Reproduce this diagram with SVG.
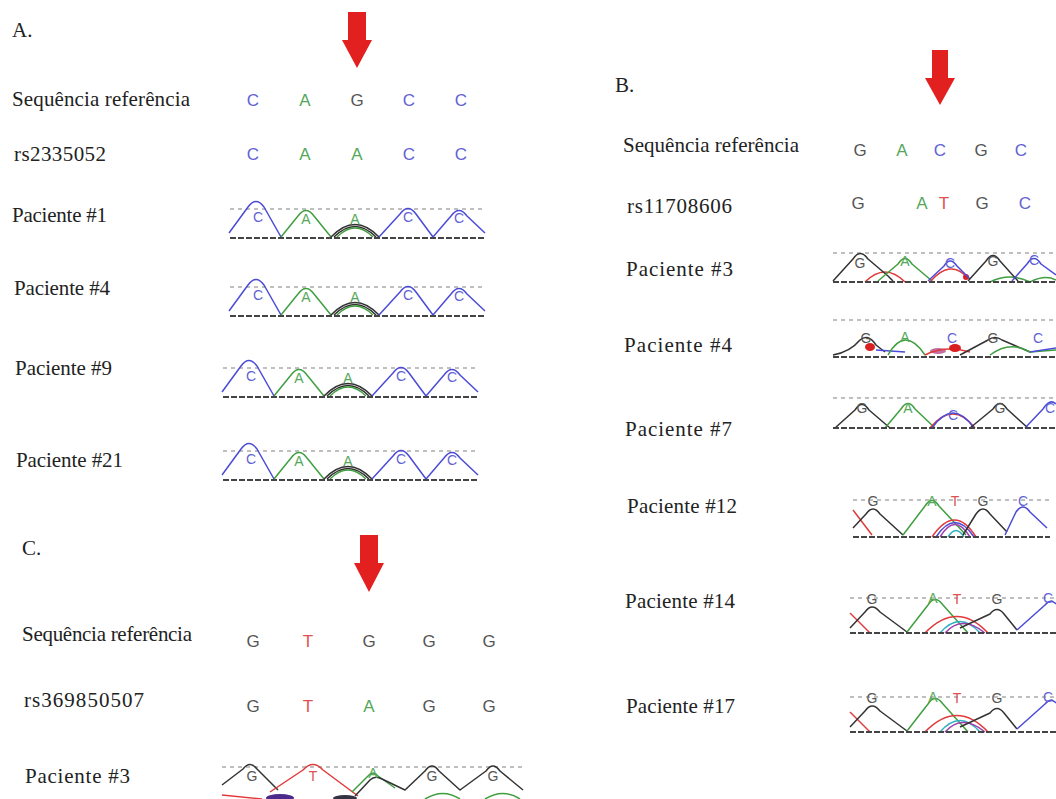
<svg xmlns="http://www.w3.org/2000/svg" xmlns:xlink="http://www.w3.org/1999/xlink" width="1056" height="799" viewBox="0 0 1056 799">
  <style>
    .lbl { font-family: "Liberation Serif", "Times New Roman", serif; font-size: 21px; fill: #222; }
    .nt { font-family: "Liberation Sans", Arial, sans-serif; font-size: 17px; text-anchor: middle; }
    .pk { font-family: "Liberation Sans", Arial, sans-serif; font-size: 14px; text-anchor: middle; }
    .cC { fill: #6262d4; }
    .cA { fill: #55a85a; }
    .cG { fill: #555; }
    .cT { fill: #e05050; }
    .tr { fill: none; stroke-width: 1.5; stroke-linejoin: round; }
    .tB { stroke: #4b4bd8; }
    .tG { stroke: #3f9f3f; }
    .tK { stroke: #333; }
    .tR { stroke: #e03a3a; }
    .tP { stroke: #a040b0; }
    .tY { stroke: #30b0c0; }
    .top { stroke: #aaa; stroke-width: 1.3; stroke-dasharray: 4 4; }
    .base { stroke: #444; stroke-width: 2; stroke-dasharray: 6 2; }
    .arrow { fill: #e32020; }
  </style>
  <defs>
    <!-- chromatogram trace used for each patient in panel A (C A A/G C C) -->
    <g id="chromA">
      <line class="top" x1="230" y1="209" x2="486" y2="209"/>
      <path class="tr tB" d="M229,233 L248,207 Q256,196 264,207 L281,237"/>
      <path class="tr tG" d="M281,237 L298,216 Q306,205 314,216 L331,237"/>
      <path class="tr tK" d="M331,237 Q355,212 379,237"/>
      <path class="tr tK" d="M334,237 Q355,216 376,237"/>
      <path class="tr tG" d="M337,237 Q355,219 373,237"/>
      <path class="tr tB" d="M379,237 L400,214 Q408,203 416,214 L433,237"/>
      <path class="tr tB" d="M433,237 L451,216 Q459,205 467,216 L485,233"/>
      <line class="base" x1="230" y1="238" x2="486" y2="238"/>
      <text class="pk cC" x="258" y="222">C</text>
      <text class="pk cA" x="306" y="224">A</text>
      <text class="pk cA" x="355" y="224">A</text>
      <text class="pk cC" x="408" y="222">C</text>
      <text class="pk cC" x="459" y="223">C</text>
    </g>
    <!-- chromatogram trace for the G A T G C heterozygous pattern in panel B -->
    <g id="chromB14">
      <line class="top" x1="850" y1="598" x2="1056" y2="598"/>
      <path class="tr tR" d="M850,613 L870,633"/>
      <path class="tr tK" d="M850,628 L865,612 Q872,602 880,612 L907,632"/>
      <path class="tr tG" d="M907,632 L928,605 Q935,594 943,605 L968,633"/>
      <path class="tr tR" d="M925,633 Q957,600 988,633"/>
      <path class="tr tY" d="M940,633 Q960,610 980,633"/>
      <path class="tr tP" d="M945,633 Q962,614 985,633"/>
      <path class="tr tK" d="M960,628 L990,614 Q997,605 1004,614 L1017,630"/>
      <path class="tr tB" d="M1017,630 L1045,605 Q1050,599 1055,603 L1056,604"/>
      <line class="base" x1="850" y1="633" x2="1056" y2="633"/>
      <text class="pk cG" x="872" y="604">G</text>
      <text class="pk cA" x="933" y="603">A</text>
      <text class="pk cT" x="957" y="604">T</text>
      <text class="pk cG" x="997" y="604">G</text>
      <text class="pk cC" x="1048" y="603">C</text>
    </g>
  </defs>

  <rect width="1056" height="799" fill="#fff"/>

  <!-- Panel A: rs2335052 -->
  <g id="panel-a">
    <text class="lbl" x="12" y="37">A.</text>
    <polygon class="arrow" points="348,12 366,12 366,40 372,40 357,68 342,40 348,40"/>
    <text class="lbl" x="12" y="106" textLength="178">Sequência referência</text>
    <g id="a-ref">
      <text class="nt cC" x="253" y="106">C</text>
      <text class="nt cA" x="305" y="106">A</text>
      <text class="nt cG" x="357" y="106">G</text>
      <text class="nt cC" x="409" y="106">C</text>
      <text class="nt cC" x="461" y="106">C</text>
    </g>
    <text class="lbl" x="14" y="161" textLength="92">rs2335052</text>
    <g id="a-snp">
      <text class="nt cC" x="253" y="160">C</text>
      <text class="nt cA" x="305" y="160">A</text>
      <text class="nt cA" x="357" y="160">A</text>
      <text class="nt cC" x="409" y="160">C</text>
      <text class="nt cC" x="461" y="160">C</text>
    </g>
    <g id="a-p1">
      <text class="lbl" x="12" y="222" textLength="95">Paciente #1</text>
      <use xlink:href="#chromA"/>
    </g>
    <g id="a-p4">
      <text class="lbl" x="14" y="295" textLength="96">Paciente #4</text>
      <use xlink:href="#chromA" transform="translate(0,78)"/>
    </g>
    <g id="a-p9">
      <text class="lbl" x="15" y="375" textLength="97">Paciente #9</text>
      <use xlink:href="#chromA" transform="translate(-7,159)"/>
    </g>
    <g id="a-p21">
      <text class="lbl" x="16" y="467" textLength="107">Paciente #21</text>
      <use xlink:href="#chromA" transform="translate(-7,242)"/>
    </g>
  </g>

  <!-- Panel B: rs11708606 -->
  <g id="panel-b">
    <text class="lbl" x="615" y="92">B.</text>
    <polygon class="arrow" points="932,50 948,50 948,78 955,78 940,105 925,78 932,78"/>
    <text class="lbl" x="623" y="152" textLength="176">Sequência referência</text>
    <g id="b-ref">
      <text class="nt cG" x="860" y="156">G</text>
      <text class="nt cA" x="902" y="156">A</text>
      <text class="nt cC" x="940" y="156">C</text>
      <text class="nt cG" x="981" y="156">G</text>
      <text class="nt cC" x="1021" y="156">C</text>
    </g>
    <text class="lbl" x="627" y="213" textLength="105">rs11708606</text>
    <g id="b-snp">
      <text class="nt cG" x="858" y="209">G</text>
      <text class="nt cA" x="922" y="209">A</text>
      <text class="nt cT" x="944" y="209">T</text>
      <text class="nt cG" x="982" y="209">G</text>
      <text class="nt cC" x="1025" y="209">C</text>
    </g>

    <g id="b-p3">
      <text class="lbl" x="626" y="276" textLength="107">Paciente #3</text>
      <line class="top" x1="833" y1="253" x2="1056" y2="253"/>
      <path class="tr tR" d="M865,282 Q885,262 905,282"/>
      <path class="tr tK" d="M833,281 L853,259 Q860,248 868,259 L888,276 L893,281"/>
      <path class="tr tG" d="M878,281 L898,264 Q905,253 912,264 L932,281"/>
      <path class="tr tR" d="M930,282 Q950,258 968,278"/>
      <circle cx="966" cy="277" r="3" fill="#d82020"/>
      <path class="tr tB" d="M928,281 L944,266 Q950,256 957,266 L970,279"/>
      <path class="tr tG" d="M990,282 Q1010,272 1030,282 M1030,282 Q1045,274 1056,280"/>
      <path class="tr tK" d="M968,281 L986,261 Q993,250 1000,261 L1018,281"/>
      <path class="tr tB" d="M1012,281 L1027,264 Q1034,253 1041,264 L1056,275"/>
      <line class="base" x1="833" y1="282" x2="1056" y2="282"/>
      <text class="pk cG" x="860" y="268">G</text>
      <text class="pk cA" x="905" y="266">A</text>
      <text class="pk cC" x="950" y="268">C</text>
      <text class="pk cG" x="993" y="266">G</text>
      <text class="pk cC" x="1034" y="265">C</text>
    </g>

    <g id="b-p4">
      <text class="lbl" x="624" y="352" textLength="108">Paciente #4</text>
      <line class="top" x1="833" y1="320" x2="1056" y2="320"/>
      <path class="tr tK" d="M833,355 Q850,352 860,340 Q868,333 876,345 L885,352"/>
      <ellipse cx="870" cy="347" rx="5" ry="4" fill="#d82020"/>
      <path class="tr tB" d="M876,350 L905,352"/>
      <path class="tr tG" d="M888,355 Q905,325 925,355"/>
      <ellipse cx="938" cy="351" rx="8" ry="3" fill="#c070a0"/>
      <path class="tr tR" d="M925,355 Q945,345 970,352"/>
      <ellipse cx="955" cy="348" rx="6" ry="4" fill="#d82020"/>
      <path class="tr tK" d="M960,355 L988,340 Q995,335 1002,340 L1030,352"/>
      <path class="tr tG" d="M990,355 Q1010,340 1030,352 L1056,350"/>
      <path class="tr tB" d="M1030,352 L1056,348"/>
      <line class="base" x1="833" y1="357" x2="1056" y2="357"/>
      <text class="pk cG" x="866" y="343">G</text>
      <text class="pk cA" x="905" y="342">A</text>
      <text class="pk cC" x="952" y="343">C</text>
      <text class="pk cG" x="993" y="343">G</text>
      <text class="pk cC" x="1038" y="343">C</text>
    </g>

    <g id="b-p7">
      <text class="lbl" x="625" y="436" textLength="107">Paciente #7</text>
      <line class="top" x1="833" y1="398" x2="1056" y2="398"/>
      <path class="tr tK" d="M835,428 L855,410 Q862,399 869,410 L890,428"/>
      <path class="tr tG" d="M885,428 L901,409 Q908,398 915,409 L935,428"/>
      <path class="tr tR" d="M930,428 Q953,400 975,428"/>
      <path class="tr tB" d="M932,428 Q953,398 974,428"/>
      <path class="tr tK" d="M970,428 L993,409 Q1000,398 1007,409 L1028,428"/>
      <path class="tr tB" d="M1025,428 L1043,409 Q1050,398 1056,404"/>
      <line class="base" x1="833" y1="428" x2="1056" y2="428"/>
      <text class="pk cG" x="862" y="413">G</text>
      <text class="pk cA" x="908" y="413">A</text>
      <text class="pk cC" x="953" y="420">C</text>
      <text class="pk cG" x="1000" y="413">G</text>
      <text class="pk cC" x="1050" y="413">C</text>
    </g>

    <g id="b-p12">
      <text class="lbl" x="627" y="513" textLength="110">Paciente #12</text>
      <line class="top" x1="853" y1="500" x2="1050" y2="500"/>
      <path class="tr tR" d="M853,510 L872,535"/>
      <path class="tr tK" d="M853,528 L866,514 Q873,504 880,514 L903,535"/>
      <path class="tr tG" d="M903,535 L925,506 Q932,495 939,506 L966,535"/>
      <path class="tr tR" d="M932,537 Q955,503 976,537"/>
      <path class="tr tB" d="M936,537 Q955,508 974,537"/>
      <path class="tr tP" d="M940,537 Q955,512 970,537"/>
      <path class="tr tY" d="M948,537 Q956,524 964,537"/>
      <path class="tr tK" d="M963,535 L976,514 Q983,504 990,514 L1007,532"/>
      <path class="tr tB" d="M1005,535 L1016,512 Q1023,502 1030,512 L1047,528"/>
      <line class="base" x1="853" y1="537" x2="1050" y2="537"/>
      <text class="pk cG" x="873" y="506">G</text>
      <text class="pk cA" x="932" y="506">A</text>
      <text class="pk cT" x="955" y="506">T</text>
      <text class="pk cG" x="983" y="506">G</text>
      <text class="pk cC" x="1023" y="506">C</text>
    </g>

    <g id="b-p14">
      <text class="lbl" x="625" y="608" textLength="110">Paciente #14</text>
      <use xlink:href="#chromB14"/>
    </g>

    <g id="b-p17">
      <text class="lbl" x="626" y="713" textLength="109">Paciente #17</text>
      <use xlink:href="#chromB14" transform="translate(0,99)"/>
    </g>
  </g>

  <!-- Panel C: rs369850507 -->
  <g id="panel-c">
    <text class="lbl" x="22" y="555">C.</text>
    <polygon class="arrow" points="360,535 378,535 378,563 384,563 369,592 354,563 360,563"/>
    <text class="lbl" x="22" y="641" textLength="170">Sequência referência</text>
    <g id="c-ref">
      <text class="nt cG" x="253" y="647">G</text>
      <text class="nt cT" x="308" y="647">T</text>
      <text class="nt cG" x="369" y="647">G</text>
      <text class="nt cG" x="429" y="647">G</text>
      <text class="nt cG" x="489" y="647">G</text>
    </g>
    <text class="lbl" x="24" y="707" textLength="120">rs369850507</text>
    <g id="c-snp">
      <text class="nt cG" x="253" y="712">G</text>
      <text class="nt cT" x="308" y="712">T</text>
      <text class="nt cA" x="369" y="712">A</text>
      <text class="nt cG" x="429" y="712">G</text>
      <text class="nt cG" x="489" y="712">G</text>
    </g>
    <g id="c-p3">
      <text class="lbl" x="25" y="783" textLength="105">Paciente #3</text>
      <line class="top" x1="222" y1="767" x2="523" y2="767"/>
      <path class="tr tR" d="M222,795 L262,799"/>
      <ellipse cx="280" cy="798" rx="14" ry="4" fill="#4a2a8a"/>
      <ellipse cx="345" cy="798" rx="12" ry="3" fill="#334"/>
      <path class="tr tG" d="M425,799 Q443,788 460,799 M485,799 Q503,788 520,799"/>
      <path class="tr tK" d="M222,785 L243,769 Q250,760 257,769 L278,790"/>
      <path class="tr tR" d="M270,792 L303,770 Q313,759 323,770 L358,796"/>
      <path class="tr tG" d="M352,792 L368,776 Q373,770 378,776 L395,788"/>
      <path class="tr tK" d="M355,796 L370,780 Q375,775 382,779 L405,790 L425,771 Q432,761 439,771 L460,790 L486,771 Q493,761 500,771 L523,790"/>
      <text class="pk cG" x="252" y="781">G</text>
      <text class="pk cT" x="313" y="781">T</text>
      <text class="pk cA" x="373" y="778">A</text>
      <text class="pk cG" x="432" y="781">G</text>
      <text class="pk cG" x="493" y="781">G</text>
    </g>
  </g>
</svg>
